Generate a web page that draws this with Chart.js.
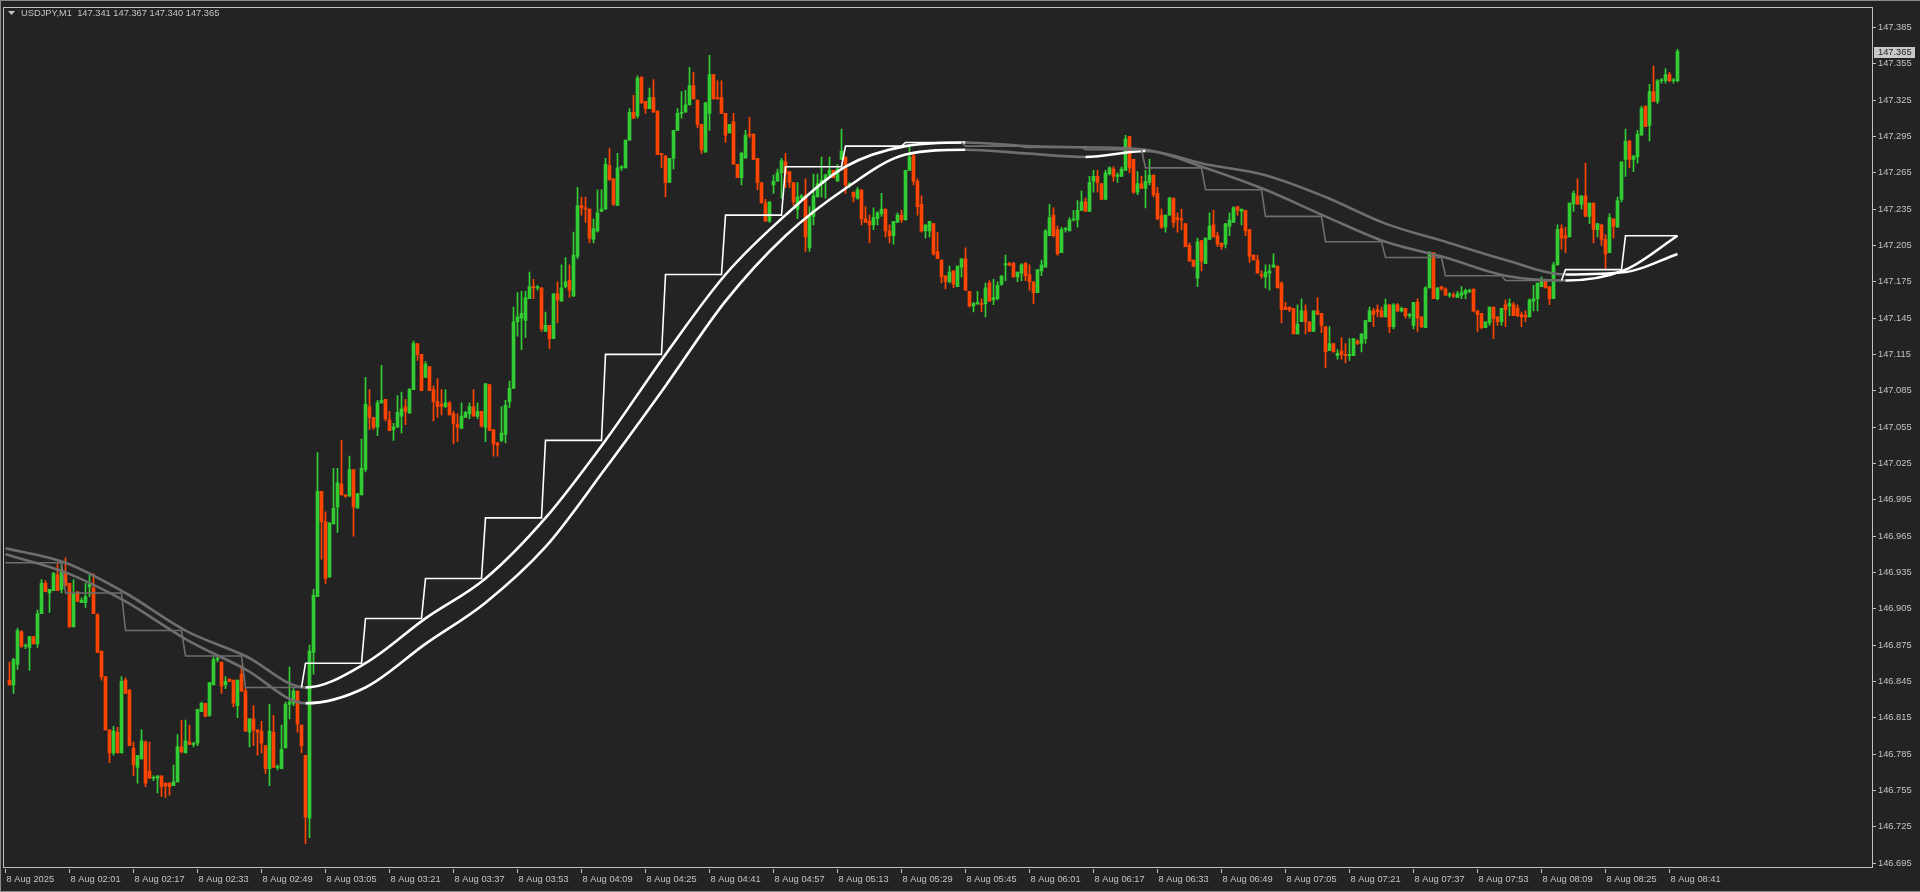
<!DOCTYPE html>
<html><head><meta charset="utf-8">
<script src="https://cdn.jsdelivr.net/npm/chart.js@4.4.0/dist/chart.umd.min.js"></script>
<style>html,body{margin:0;padding:0;background:#232323;overflow:hidden}canvas{display:block}</style>
</head><body>
<canvas id="c" width="1920" height="892"></canvas>
<script>
// ---------- DATA ----------
const symbolTitle = 'USDJPY,M1';
const firstCandleIndex = 1; // candle index 0 = 8 Aug 01:45
const opens = [
146.846,146.842,146.859,146.886,146.874,146.873,146.882,146.876,146.901,146.926,
146.918,146.920,146.933,146.921,146.934,146.926,146.890,146.919,146.910,146.910,
146.923,146.922,146.900,146.870,146.849,146.805,146.786,146.803,146.786,146.846,
146.838,146.790,146.774,146.781,146.795,146.771,146.765,146.765,146.767,146.761,
146.761,146.759,146.762,146.791,146.786,146.795,146.793,146.794,146.820,146.827,
146.817,146.842,146.863,146.861,146.842,146.847,146.846,146.825,146.851,146.837,
146.803,146.814,146.805,146.804,146.792,146.773,146.803,146.774,146.773,146.790,
146.826,146.827,146.837,146.809,146.784,146.732,146.869,146.915,147.002,146.977,
146.931,146.975,146.989,147.008,146.999,146.998,147.020,146.988,146.999,147.020,
147.072,147.063,147.055,147.075,147.078,147.061,147.053,147.055,147.064,147.072,
147.067,147.086,147.124,147.115,147.096,147.105,147.086,147.076,147.074,147.072,
147.075,147.066,147.057,147.054,147.063,147.066,147.072,147.064,147.068,147.055,
147.090,147.053,147.042,147.044,147.049,147.076,147.087,147.142,147.145,147.143,
147.161,147.171,147.170,147.170,147.134,147.139,147.128,147.165,147.159,147.171,
147.176,147.163,147.196,147.238,147.236,147.235,147.210,147.217,147.233,147.235,
147.271,147.260,147.238,147.269,147.269,147.292,147.315,147.312,147.344,147.324,
147.318,147.327,147.316,147.281,147.279,147.257,147.277,147.300,147.314,147.315,
147.321,147.337,147.325,147.305,147.282,147.314,147.346,147.327,147.327,147.314,
147.298,147.307,147.272,147.261,147.277,147.297,147.297,147.277,147.257,147.240,
147.225,147.255,147.258,147.265,147.274,147.266,147.257,147.235,147.244,147.246,
147.203,147.229,147.245,147.256,147.259,147.263,147.267,147.258,147.276,147.278,
147.255,147.249,147.244,147.251,147.227,147.225,147.222,147.227,147.231,147.235,
147.217,147.213,147.224,147.230,147.226,147.267,147.279,147.258,147.239,147.217,
147.217,147.223,147.200,147.193,147.180,147.175,147.184,147.171,147.187,147.194,
147.167,147.155,147.157,147.157,147.157,147.174,147.160,147.161,147.173,147.189,
147.190,147.190,147.179,147.182,147.190,147.181,147.175,147.166,147.184,147.187,
147.213,147.230,147.218,147.199,147.218,147.217,147.226,147.226,147.234,147.241,
147.233,147.258,147.262,147.256,147.243,147.264,147.268,147.262,147.262,147.267,
147.295,147.276,147.249,147.256,147.252,147.257,147.263,147.248,147.230,147.220,
147.230,147.244,147.228,147.227,147.223,147.205,147.193,147.178,147.209,147.190,
147.210,147.222,147.213,147.207,147.206,147.221,147.224,147.237,147.233,147.234,
147.218,147.197,147.193,147.181,147.179,147.182,147.187,147.188,147.174,147.154,
147.154,147.153,147.132,147.142,147.151,147.142,147.134,147.151,147.149,147.138,
147.118,147.124,147.114,147.118,147.115,147.114,147.114,147.126,147.124,147.128,
147.142,147.151,147.152,147.151,147.146,147.156,147.138,147.156,147.151,147.153,
147.147,147.139,147.158,147.146,147.137,147.170,147.199,147.161,147.171,147.169,
147.164,147.164,147.162,147.164,147.165,147.167,147.169,147.151,147.149,147.137,
147.141,147.154,147.146,147.142,147.156,147.155,147.156,147.153,147.148,147.147,
147.146,147.159,147.161,147.171,147.177,147.171,147.161,147.189,147.219,147.213,
147.212,147.239,147.246,147.239,147.246,147.229,147.240,147.218,147.222,147.210,
147.199,147.227,147.220,147.243,147.276,147.291,147.276,147.278,147.296,147.320,
147.304,147.332,147.324,147.341,147.341,147.346,147.341,147.341];
const highs = [
146.861,146.864,146.889,146.887,146.876,146.882,146.882,146.904,146.929,146.928,
146.921,146.935,146.942,146.943,146.947,146.926,146.929,146.919,146.914,146.926,
146.933,146.934,146.901,146.870,146.849,146.805,146.808,146.807,146.849,146.848,
146.838,146.795,146.784,146.805,146.796,146.795,146.767,146.767,146.767,146.761,
146.761,146.776,146.801,146.813,146.813,146.809,146.795,146.822,146.828,146.827,
146.844,146.865,146.865,146.861,146.849,146.847,146.846,146.846,146.858,146.840,
146.814,146.825,146.805,146.812,146.792,146.826,146.817,146.776,146.809,146.828,
146.857,146.839,146.837,146.809,146.784,146.875,146.921,147.034,147.002,146.985,
146.976,147.021,147.021,147.044,146.999,147.031,147.020,147.000,147.045,147.096,
147.086,147.063,147.077,147.106,147.078,147.068,147.058,147.081,147.084,147.078,
147.087,147.126,147.124,147.115,147.109,147.105,147.089,147.095,147.086,147.086,
147.076,147.068,147.066,147.075,147.068,147.075,147.086,147.075,147.068,147.091,
147.090,147.053,147.042,147.072,147.077,147.093,147.154,147.166,147.167,147.167,
147.183,147.177,147.172,147.170,147.150,147.139,147.165,147.175,147.189,147.195,
147.189,147.216,147.253,147.245,147.245,147.235,147.227,147.251,147.251,147.277,
147.285,147.260,147.281,147.271,147.292,147.318,147.329,147.345,147.344,147.324,
147.335,147.342,147.316,147.281,147.279,147.277,147.300,147.318,147.332,147.333,
147.352,147.348,147.325,147.305,147.323,147.362,147.346,147.341,147.341,147.314,
147.305,147.314,147.272,147.282,147.300,147.311,147.297,147.277,147.257,147.243,
147.241,147.263,147.268,147.277,147.281,147.266,147.257,147.257,147.247,147.260,
147.237,147.264,147.264,147.278,147.264,147.278,147.267,147.272,147.301,147.278,
147.257,147.249,147.253,147.251,147.237,147.230,147.236,147.233,147.248,147.235,
147.222,147.225,147.232,147.234,147.267,147.287,147.282,147.260,147.246,147.222,
147.225,147.223,147.216,147.193,147.180,147.188,147.184,147.188,147.194,147.203,
147.167,147.158,147.167,147.161,147.174,147.176,147.177,147.175,147.180,147.197,
147.191,147.191,147.183,147.190,147.191,147.189,147.175,147.185,147.193,147.218,
147.239,147.236,147.221,147.220,147.220,147.228,147.234,147.242,147.250,147.244,
147.262,147.267,147.267,147.256,147.267,147.270,147.270,147.265,147.270,147.296,
147.295,147.276,147.266,147.262,147.267,147.276,147.263,147.253,147.235,147.230,
147.245,147.244,147.232,147.235,147.223,147.207,147.193,147.211,147.209,147.211,
147.232,147.234,147.216,147.207,147.223,147.232,147.237,147.237,147.235,147.234,
147.218,147.197,147.197,147.184,147.189,147.189,147.198,147.188,147.175,147.158,
147.154,147.153,147.156,147.161,147.156,147.142,147.151,147.162,147.149,147.138,
147.138,147.124,147.119,147.129,147.124,147.128,147.128,147.127,147.132,147.143,
147.154,147.153,147.156,147.154,147.161,147.156,147.157,147.157,147.154,147.153,
147.149,147.158,147.161,147.146,147.171,147.200,147.199,147.170,147.171,147.170,
147.166,147.166,147.167,147.171,147.169,147.169,147.169,147.151,147.149,147.142,
147.154,147.154,147.146,147.153,147.160,147.161,147.158,147.156,147.150,147.151,
147.161,147.172,147.174,147.179,147.177,147.171,147.191,147.222,147.222,147.220,
147.240,147.250,147.260,147.246,147.273,147.240,147.240,147.223,147.222,147.214,
147.231,147.227,147.245,147.274,147.301,147.292,147.279,147.300,147.320,147.320,
147.338,147.353,147.342,147.343,147.351,147.348,147.343,147.367];
const lows = [
146.842,146.835,146.855,146.873,146.872,146.854,146.876,146.873,146.901,146.919,
146.902,146.920,146.920,146.918,146.924,146.890,146.890,146.911,146.910,146.906,
146.915,146.901,146.869,146.846,146.805,146.778,146.784,146.786,146.786,146.835,
146.792,146.767,146.761,146.781,146.758,146.765,146.763,146.753,146.750,146.749,
146.751,146.759,146.762,146.786,146.786,146.793,146.791,146.792,146.820,146.816,
146.816,146.842,146.861,146.835,146.839,146.845,146.824,146.815,146.837,146.804,
146.791,146.792,146.784,146.786,146.769,146.759,146.774,146.772,146.773,146.790,
146.814,146.825,146.803,146.786,146.711,146.716,146.851,146.915,146.946,146.926,
146.931,146.975,146.968,146.999,146.997,146.998,146.965,146.988,146.999,147.018,
147.053,147.053,147.048,147.075,147.060,147.052,147.044,147.055,147.050,147.057,
147.066,147.086,147.110,147.085,147.096,147.085,147.060,147.063,147.065,147.071,
147.065,147.041,147.043,147.054,147.063,147.062,147.064,147.062,147.055,147.043,
147.052,147.031,147.031,147.043,147.042,147.071,147.087,147.130,147.119,147.129,
147.161,147.161,147.168,147.134,147.134,147.120,147.128,147.141,147.159,147.170,
147.162,147.163,147.194,147.230,147.224,147.207,147.207,147.216,147.233,147.235,
147.259,147.238,147.238,147.267,147.269,147.292,147.310,147.310,147.322,147.314,
147.318,147.315,147.280,147.269,147.245,147.257,147.268,147.300,147.310,147.315,
147.321,147.326,147.302,147.281,147.282,147.300,147.326,147.326,147.314,147.290,
147.298,147.272,147.261,147.255,147.277,147.294,147.276,147.251,147.240,147.225,
147.224,147.248,147.258,147.244,147.253,147.253,147.238,147.227,147.243,147.200,
147.200,147.222,147.245,147.245,147.244,147.261,147.261,147.258,147.276,147.248,
147.253,147.241,147.243,147.222,147.224,147.207,147.218,147.222,147.229,147.212,
147.207,147.206,147.224,147.224,147.226,147.267,147.255,147.230,147.216,147.211,
147.212,147.197,147.194,147.174,147.169,147.174,147.170,147.171,147.179,147.168,
147.154,147.150,147.156,147.150,147.146,147.159,147.156,147.160,147.172,147.176,
147.188,147.179,147.175,147.176,147.176,147.168,147.157,147.166,147.180,147.187,
147.213,147.212,147.197,147.199,147.216,147.217,147.225,147.220,147.234,147.233,
147.233,147.249,147.249,147.243,147.243,147.263,147.258,147.257,147.262,147.267,
147.265,147.248,147.247,147.252,147.236,147.255,147.245,147.226,147.219,147.216,
147.230,147.220,147.216,147.218,147.204,147.192,147.187,147.171,147.184,147.190,
147.210,147.212,147.204,147.202,147.203,147.213,147.224,147.230,147.222,147.213,
147.191,147.193,147.182,147.178,147.170,147.168,147.187,147.170,147.141,147.152,
147.150,147.132,147.132,147.142,147.132,147.134,147.134,147.148,147.133,147.104,
147.118,147.117,147.111,147.111,147.108,147.110,147.114,147.123,147.117,147.124,
147.142,147.138,147.146,147.146,147.146,147.133,147.136,147.150,147.150,147.145,
147.145,147.136,147.134,147.137,147.137,147.170,147.161,147.160,147.168,147.164,
147.162,147.162,147.162,147.161,147.161,147.166,147.150,147.134,147.136,147.137,
147.139,147.128,147.139,147.139,147.138,147.147,147.147,147.146,147.138,147.142,
147.146,147.151,147.151,147.171,147.170,147.156,147.161,147.189,147.202,147.199,
147.212,147.233,147.239,147.235,147.229,147.223,147.207,147.212,147.205,147.186,
147.199,147.211,147.220,147.241,147.262,147.269,147.266,147.273,147.296,147.303,
147.291,147.324,147.322,147.339,147.339,147.340,147.339,147.340];
const closes = [
146.842,146.863,146.887,146.874,146.874,146.882,146.876,146.901,146.926,146.919,
146.921,146.934,146.920,146.935,146.924,146.890,146.917,146.911,146.912,146.915,
146.925,146.901,146.869,146.849,146.805,146.786,146.804,146.786,146.845,146.835,
146.792,146.776,146.784,146.796,146.761,146.765,146.765,146.767,146.758,146.759,
146.758,146.762,146.791,146.787,146.796,146.793,146.793,146.822,146.827,146.816,
146.844,146.863,146.863,146.841,146.845,146.845,146.827,146.846,146.837,146.804,
146.814,146.805,146.803,146.794,146.773,146.804,146.774,146.774,146.789,146.826,
146.828,146.837,146.810,146.792,146.733,146.870,146.916,147.002,146.977,146.930,
146.976,146.988,147.009,146.999,146.998,147.020,146.989,147.000,147.021,147.074,
147.063,147.055,147.075,147.077,147.062,147.052,147.055,147.067,147.070,147.068,
147.086,147.124,147.115,147.085,147.107,147.085,147.076,147.072,147.072,147.075,
147.065,147.058,147.055,147.064,147.067,147.072,147.064,147.068,147.056,147.091,
147.052,147.041,147.040,147.050,147.073,147.087,147.142,147.146,147.149,147.162,
147.171,147.170,147.170,147.136,147.139,147.128,147.165,147.160,147.170,147.175,
147.168,147.197,147.238,147.236,147.235,147.211,147.219,147.232,147.235,147.272,
147.259,147.239,147.269,147.269,147.292,147.315,147.310,147.343,147.323,147.318,
147.327,147.315,147.280,147.280,147.257,147.277,147.300,147.314,147.315,147.321,
147.337,147.326,147.305,147.284,147.323,147.346,147.326,147.326,147.314,147.296,
147.305,147.272,147.261,147.281,147.296,147.296,147.276,147.257,147.240,147.225,
147.241,147.258,147.265,147.275,147.264,147.257,147.241,147.245,147.246,147.212,
147.229,147.246,147.256,147.259,147.263,147.267,147.261,147.268,147.283,147.255,
147.255,147.245,147.251,147.227,147.224,147.222,147.228,147.232,147.235,147.217,
147.213,147.225,147.230,147.226,147.267,147.278,147.258,147.237,147.217,147.222,
147.225,147.198,147.194,147.179,147.175,147.183,147.173,147.188,147.194,147.168,
147.155,147.157,147.158,147.156,147.170,147.159,147.162,147.172,147.180,147.190,
147.189,147.179,147.183,147.189,147.180,147.175,147.166,147.185,147.189,147.217,
147.228,147.213,147.198,147.218,147.218,147.226,147.227,147.234,147.241,147.233,
147.257,147.262,147.257,147.243,147.265,147.269,147.262,147.263,147.268,147.293,
147.269,147.249,147.256,147.252,147.258,147.263,147.247,147.227,147.220,147.230,
147.244,147.224,147.226,147.226,147.204,147.192,147.188,147.208,147.192,147.211,
147.221,147.212,147.206,147.204,147.223,147.226,147.236,147.234,147.235,147.217,
147.196,147.193,147.182,147.180,147.183,147.184,147.189,147.170,147.152,147.152,
147.152,147.132,147.140,147.151,147.142,147.134,147.151,147.148,147.139,147.117,
147.124,147.117,147.116,147.115,147.114,147.115,147.128,147.124,147.132,147.143,
147.151,147.148,147.150,147.146,147.156,147.138,147.156,147.151,147.153,147.147,
147.147,147.158,147.145,147.138,147.170,147.199,147.161,147.170,147.169,147.164,
147.164,147.163,147.165,147.166,147.168,147.168,147.151,147.148,147.137,147.142,
147.154,147.145,147.142,147.153,147.152,147.157,147.147,147.147,147.146,147.146,
147.160,147.161,147.174,147.177,147.170,147.161,147.189,147.218,147.211,147.211,
147.240,147.248,147.239,147.246,147.229,147.240,147.218,147.223,147.210,147.198,
147.228,147.221,147.242,147.274,147.291,147.276,147.279,147.297,147.318,147.303,
147.332,147.324,147.341,147.341,147.346,147.341,147.341,147.365];

// M15 stepped average (one value per 15-minute bar, bar k spans candles 15k..15k+14)
const stairValues = [146.943,146.918,146.887,146.866,146.840,146.860,146.897,146.930,146.980,147.044,
  147.115,147.181,147.230,147.270,147.287,147.290,147.287,147.286,147.284,147.269,
  147.251,147.229,147.208,147.195,147.180,147.176,147.185,147.213];
// smooth lines, knots read at the M15 boundaries
const knotIndex = [0,15,30,45,60,75,90,105,120,135,150,165,180,195,210,225,240,255,270,285,300,315,330,345,360,375,390,405,418];
const smoothA = [146.955,146.943,146.918,146.887,146.866,146.840,146.860,146.897,146.930,146.980,
  147.044,147.115,147.181,147.230,147.270,147.287,147.290,147.287,147.286,147.284,
  147.269,147.251,147.229,147.208,147.195,147.180,147.176,147.185,147.213];
const smoothB = [146.950,146.935,146.911,146.880,146.855,146.827,146.840,146.876,146.910,146.956,
  147.021,147.089,147.159,147.213,147.252,147.280,147.284,147.281,147.278,147.283,
  147.272,147.263,147.245,147.223,147.208,147.193,147.181,147.183,147.198];

const timeTickIndex = [0,16,32,48,64,80,96,112,128,144,160,176,192,208,224,240,256,272,288,304,320,336,352,368,384,400,416];
const timeLabels = ['8 Aug 2025','8 Aug 02:01','8 Aug 02:17','8 Aug 02:33','8 Aug 02:49','8 Aug 03:05','8 Aug 03:21',
  '8 Aug 03:37','8 Aug 03:53','8 Aug 04:09','8 Aug 04:25','8 Aug 04:41','8 Aug 04:57','8 Aug 05:13','8 Aug 05:29',
  '8 Aug 05:45','8 Aug 06:01','8 Aug 06:17','8 Aug 06:33','8 Aug 06:49','8 Aug 07:05','8 Aug 07:21','8 Aug 07:37',
  '8 Aug 07:53','8 Aug 08:09','8 Aug 08:25','8 Aug 08:41'];
const priceTicks = [146.695,146.725,146.755,146.785,146.815,146.845,146.875,146.905,146.935,146.965,146.995,
  147.025,147.055,147.085,147.115,147.145,147.175,147.205,147.235,147.265,147.295,147.325,147.355,147.385];

// ---------- STYLE ----------
const BG = '#232323', FG = '#c4c4c4', BULL = '#32cd32', BEAR = '#ff4500';
const WHITE = '#ffffff', GRAY = '#6e6e6e';
const FONT = {family: '"Liberation Sans", Arial, sans-serif', size: 9.3};

// ---------- BUILD ----------
const n = closes.length;
const lastIdx = firstCandleIndex + n - 1;
const candleColors = closes.map((c, k) => c >= opens[k] ? BULL : BEAR);
const bodyData = closes.map((c, k) => ({x: k + firstCandleIndex, y: [opens[k], c]}));
const wickData = closes.map((c, k) => ({x: k + firstCandleIndex, y: [lows[k], highs[k]]}));

const stairPts = [];
stairValues.forEach((v, k) => {
  stairPts.push({x: k * 15, y: v});
  stairPts.push({x: Math.min(k * 15 + 14, lastIdx), y: v});
});
const stairUp = stairValues.map((v, k) => k > 0 && v > stairValues[k - 1]);
const aPts = knotIndex.map((x, k) => ({x, y: smoothA[k]}));
const bPts = knotIndex.map((x, k) => ({x, y: smoothB[k]}));

const slopeColor = ctx => ctx.p1.parsed.y > ctx.p0.parsed.y ? WHITE : GRAY;
const stairColor = ctx => {
  const a = ctx.p0.parsed.y, b = ctx.p1.parsed.y;
  if (b > a) return WHITE;
  if (b < a) return GRAY;
  return stairUp[Math.floor(ctx.p0.parsed.x / 15)] ? WHITE : GRAY;
};

const framePlugin = {
  id: 'frame',
  beforeDraw(chart) {
    const c = chart.ctx;
    c.save();
    c.fillStyle = BG;
    c.fillRect(0, 0, chart.width, chart.height);
    c.restore();
  },
  afterDraw(chart) {
    const c = chart.ctx, a = chart.chartArea;
    c.save();
    c.strokeStyle = '#8a8a8a'; c.lineWidth = 1;
    c.beginPath(); c.moveTo(0, 0.5); c.lineTo(chart.width, 0.5); c.stroke();
    c.beginPath(); c.moveTo(0.5, 0); c.lineTo(0.5, chart.height); c.stroke();
    c.beginPath(); c.moveTo(0, chart.height - 0.5); c.lineTo(chart.width, chart.height - 0.5); c.stroke();
    c.strokeStyle = '#c0c0c0';
    c.strokeRect(Math.floor(a.left) - 0.5, Math.floor(a.top) + 0.5, Math.round(a.right - a.left) + 1, Math.round(a.bottom - a.top) - 1);
    c.fillStyle = FG;
    c.beginPath(); c.moveTo(8, 11); c.lineTo(15, 11); c.lineTo(11.5, 15); c.closePath(); c.fill();
    c.font = '9.3px "Liberation Sans", Arial, sans-serif';
    c.textBaseline = 'middle'; c.textAlign = 'left';
    const last = n - 1;
    const o = opens[last].toFixed(3), h = highs[last].toFixed(3), l = lows[last].toFixed(3), cl = closes[last].toFixed(3);
    c.fillText(symbolTitle + '  ' + o + ' ' + h + ' ' + l + ' ' + cl, 21, 13);
    const y = chart.scales.y.getPixelForValue(closes[last]);
    c.fillStyle = '#c8c8c8';
    c.fillRect(1874, Math.round(y) - 5, 41, 11);
    c.fillStyle = '#1e1e1e';
    c.fillText(cl, 1878, Math.round(y) + 0.5);
    c.restore();
  }
};

new Chart(document.getElementById('c'), {
  type: 'bar',
  data: {
    datasets: [
      {type: 'line', label: 'stair', data: stairPts, borderWidth: 1.6, pointRadius: 0, tension: 0,
       borderColor: GRAY, segment: {borderColor: stairColor}, order: 0},
      {type: 'line', label: 'slow', data: bPts, borderWidth: 2.6, pointRadius: 0, cubicInterpolationMode: 'monotone',
       borderColor: GRAY, segment: {borderColor: slopeColor}, order: 0},
      {type: 'line', label: 'fast', data: aPts, borderWidth: 2.6, pointRadius: 0, cubicInterpolationMode: 'monotone',
       borderColor: GRAY, segment: {borderColor: slopeColor}, order: 0},
      {type: 'bar', label: 'body', data: bodyData, backgroundColor: candleColors, borderWidth: 0,
       barThickness: 3, minBarLength: 1, grouped: false, order: 1},
      {type: 'bar', label: 'wick', data: wickData, backgroundColor: candleColors, borderWidth: 0,
       barThickness: 1, minBarLength: 1, grouped: false, order: 2}
    ]
  },
  options: {
    responsive: false, animation: false, devicePixelRatio: 1,
    layout: {padding: {left: 4, top: 4, right: 0, bottom: 0}},
    plugins: {legend: {display: false}, tooltip: {enabled: false}},
    scales: {
      x: {
        type: 'linear', position: 'bottom', min: -0.375, max: 466.625, offset: false,
        grid: {display: true, drawOnChartArea: false, drawTicks: true, tickLength: 4, color: '#c0c0c0', offset: false},
        border: {display: false},
        ticks: {autoSkip: false, maxRotation: 0, minRotation: 0, align: 'start', padding: 1, labelOffset: 1,
          color: FG, font: FONT,
          callback: v => { const k = timeTickIndex.indexOf(v); return k >= 0 ? timeLabels[k] : ''; }},
        afterBuildTicks: s => { s.ticks = timeTickIndex.map(v => ({value: v})); },
        afterFit: s => { s.height = 23; }
      },
      y: {
        type: 'linear', position: 'right', min: 146.6901, max: 147.4014,
        grid: {display: true, drawOnChartArea: false, drawTicks: true, tickLength: 4, color: '#c0c0c0'},
        border: {display: false},
        ticks: {padding: 2, color: FG, font: FONT, callback: v => Number(v).toFixed(3)},
        afterBuildTicks: s => { s.ticks = priceTicks.map(v => ({value: v})); },
        afterFit: s => { s.width = 48; }
      }
    }
  },
  plugins: [framePlugin]
});
</script>
</body></html>
